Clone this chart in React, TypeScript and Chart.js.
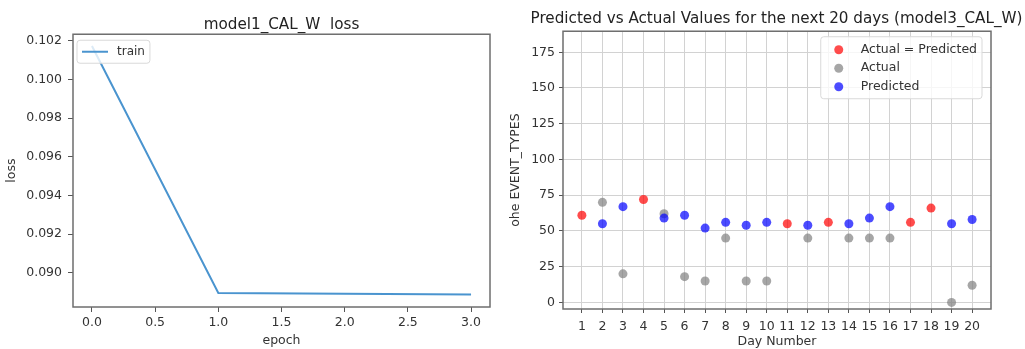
import React, { useEffect, useRef } from 'react';
import { Chart, registerables } from 'chart.js';

Chart.register(...registerables);

const FONT = "'DejaVu Sans', 'Liberation Sans', sans-serif";
const TEXT = '#333333';
const TICK_SIZE = 12.5;
const TITLE_SIZE = 15.2;

// ---- Left chart data ----
const epochs = [0, 1, 2, 3];
const trainLoss = [0.10174, 0.08895, 0.0889, 0.08887];
const lossTitle = 'model1_CAL_W  loss';

// ---- Right chart data ----
const days = [1, 2, 3, 4, 5, 6, 7, 8, 9, 10, 11, 12, 13, 14, 15, 16, 17, 18, 19, 20];
const actualEqualsPredicted = [61, null, null, 72, null, null, null, null, null, null, 55, null, 56, null, null, null, 56, 66, null, null];
const actualValues = [null, 70, 20, null, 62, 18, 15, 45, 15, 15, null, 45, null, 45, 45, 45, null, null, 0, 12];
const predictedValues = [null, 55, 67, null, 59, 61, 52, 56, 54, 56, null, 54, null, 55, 59, 67, null, null, 55, 58];
const scatterTitle = 'Predicted vs Actual Values for the next 20 days (model3_CAL_W)';

const toPoints = (vals: (number | null)[]) =>
  days.map((d, i) => ({ x: d, y: vals[i] })).filter((p) => p.y !== null) as { x: number; y: number }[];

const framePlugin = {
  id: 'frame',
  afterDatasetsDraw(chart: any) {
    const { ctx, chartArea } = chart;
    const { left, top, right, bottom } = chartArea;
    ctx.save();
    ctx.strokeStyle = '#6e6e6e';
    ctx.lineWidth = 1.5;
    ctx.strokeRect(left, top, right - left, bottom - top);
    ctx.restore();
  },
};

const lineLegendPlugin = {
  id: 'lineLegend',
  afterDraw(chart: any) {
    const { ctx, chartArea } = chart;
    const ds = chart.data.datasets[0];
    ctx.save();
    ctx.font = `12px ${FONT}`;
    const tw = ctx.measureText(ds.label).width;
    const x = chartArea.left + 4;
    const y = chartArea.top + 6;
    const w = 5 + 26 + 9 + tw + 5;
    const h = 23;
    ctx.beginPath();
    ctx.roundRect(x, y, w, h, 3);
    ctx.fillStyle = 'rgba(255,255,255,0.8)';
    ctx.fill();
    ctx.strokeStyle = '#d9d9d9';
    ctx.lineWidth = 1;
    ctx.stroke();
    ctx.beginPath();
    ctx.moveTo(x + 5, y + h / 2);
    ctx.lineTo(x + 31, y + h / 2);
    ctx.strokeStyle = ds.borderColor;
    ctx.lineWidth = 2;
    ctx.stroke();
    ctx.fillStyle = TEXT;
    ctx.textBaseline = 'middle';
    ctx.textAlign = 'left';
    ctx.fillText(ds.label, x + 40, y + h / 2);
    ctx.restore();
  },
};

const scatterLegendPlugin = {
  id: 'scatterLegend',
  afterDraw(chart: any) {
    const { ctx, chartArea } = chart;
    const dss = chart.data.datasets;
    ctx.save();
    ctx.font = `12.5px ${FONT}`;
    let tw = 0;
    dss.forEach((d: any) => {
      tw = Math.max(tw, ctx.measureText(d.label).width);
    });
    const w = 40 + tw + 5;
    const rowH = 18.5;
    const h = 13 + rowH * (dss.length - 1) + 12;
    const x = chartArea.right - 9 - w;
    const y = chartArea.top + 5.5;
    ctx.beginPath();
    ctx.roundRect(x, y, w, h, 3);
    ctx.fillStyle = 'rgba(255,255,255,0.8)';
    ctx.fill();
    ctx.strokeStyle = '#d9d9d9';
    ctx.lineWidth = 1;
    ctx.stroke();
    dss.forEach((d: any, i: number) => {
      const cy = y + 13 + i * rowH;
      ctx.beginPath();
      ctx.arc(x + 18, cy, 4.5, 0, Math.PI * 2);
      ctx.fillStyle = d.backgroundColor;
      ctx.fill();
      ctx.fillStyle = TEXT;
      ctx.textBaseline = 'middle';
      ctx.textAlign = 'left';
      ctx.fillText(d.label, x + 40, cy);
    });
    ctx.restore();
  },
};

// an invisible right-hand axis used only to reserve space so the title is centred over the plot
const spacerAxis = (w: number) => ({
  type: 'linear',
  position: 'right',
  display: true,
  grid: { display: false },
  border: { display: false },
  ticks: { display: false },
  afterFit: (s: any) => {
    s.width = w;
  },
});

function LossChart() {
  const ref = useRef<HTMLCanvasElement>(null);
  useEffect(() => {
    const chart = new Chart(ref.current!, {
      type: 'line',
      data: {
        datasets: [
          {
            label: 'train',
            data: epochs.map((e, i) => ({ x: e, y: trainLoss[i] })),
            borderColor: '#4a94cf',
            borderWidth: 2,
            pointRadius: 0,
            tension: 0,
            fill: false,
          },
        ],
      },
      options: {
        animation: false,
        responsive: false,
        devicePixelRatio: 1,
        layout: { padding: 0 },
        plugins: {
          legend: { display: false },
          tooltip: { enabled: false },
          title: {
            display: true,
            text: lossTitle,
            color: '#222',
            font: { family: FONT, size: TITLE_SIZE, weight: 'normal' },
            padding: { top: 16, bottom: 0 },
          },
        },
        scales: {
          x: {
            type: 'linear',
            min: -0.15,
            max: 3.15,
            afterFit: (s: any) => {
              s.height = 42;
            },
            border: { display: false },
            grid: { display: true, drawOnChartArea: false, drawTicks: true, tickLength: 5, tickColor: '#555' },
            ticks: {
              stepSize: 0.5,
              includeBounds: false,
              autoSkip: false,
              maxRotation: 0,
              padding: 3,
              color: TEXT,
              font: { family: FONT, size: TICK_SIZE },
              callback: (v: any) => Number(v).toFixed(1),
            },
            title: {
              display: true,
              text: 'epoch',
              color: TEXT,
              font: { family: FONT, size: TICK_SIZE },
              padding: { top: 0, bottom: 1 },
            },
          },
          y: {
            type: 'linear',
            min: 0.08822,
            max: 0.10235,
            afterFit: (s: any) => {
              s.width = 73;
            },
            border: { display: false },
            grid: { display: true, drawOnChartArea: false, drawTicks: true, tickLength: 5, tickColor: '#555' },
            ticks: {
              stepSize: 0.002,
              includeBounds: false,
              padding: 6,
              color: TEXT,
              font: { family: FONT, size: TICK_SIZE },
              callback: (v: any) => Number(v).toFixed(3),
            },
            title: {
              display: true,
              text: 'loss',
              color: TEXT,
              font: { family: FONT, size: TICK_SIZE },
              padding: { top: 4, bottom: 0 },
            },
          },
          spacer: spacerAxis(73),
        },
      } as any,
      plugins: [framePlugin, lineLegendPlugin],
    });
    return () => chart.destroy();
  }, []);
  return (
    <canvas
      ref={ref}
      width={563}
      height={349}
      style={{ position: 'absolute', left: 0, top: 0, width: 563, height: 349 }}
    />
  );
}

function ScatterChart() {
  const ref = useRef<HTMLCanvasElement>(null);
  useEffect(() => {
    const chart = new Chart(ref.current!, {
      type: 'scatter',
      data: {
        datasets: [
          {
            label: 'Actual = Predicted',
            data: toPoints(actualEqualsPredicted),
            backgroundColor: 'rgba(255,0,0,0.7)',
            borderWidth: 0,
            pointRadius: 4.5,
            order: 3,
          },
          {
            label: 'Actual',
            data: toPoints(actualValues),
            backgroundColor: 'rgba(128,128,128,0.7)',
            borderWidth: 0,
            pointRadius: 4.5,
            order: 2,
          },
          {
            label: 'Predicted',
            data: toPoints(predictedValues),
            backgroundColor: 'rgba(0,0,255,0.7)',
            borderWidth: 0,
            pointRadius: 4.5,
            order: 1,
          },
        ],
      },
      options: {
        animation: false,
        responsive: false,
        devicePixelRatio: 1,
        layout: { padding: 0 },
        plugins: {
          legend: { display: false },
          tooltip: { enabled: false },
          title: {
            display: true,
            text: scatterTitle,
            color: '#222',
            font: { family: FONT, size: TITLE_SIZE, weight: 'normal' },
            padding: { top: 10, bottom: 3 },
          },
        },
        scales: {
          x: {
            type: 'linear',
            min: 0.08,
            max: 20.92,
            afterFit: (s: any) => {
              s.height = 40;
            },
            border: { display: false },
            grid: {
              display: true,
              drawOnChartArea: true,
              drawTicks: true,
              tickLength: 4,
              color: '#d2d2d2',
              tickColor: '#555',
              lineWidth: 1,
            },
            ticks: {
              stepSize: 1,
              includeBounds: false,
              autoSkip: false,
              maxTicksLimit: 100,
              maxRotation: 0,
              padding: 6,
              color: TEXT,
              font: { family: FONT, size: TICK_SIZE },
              callback: (v: any) => String(v),
            },
            title: {
              display: true,
              text: 'Day Number',
              color: TEXT,
              font: { family: FONT, size: TICK_SIZE },
              padding: { top: 0, bottom: 0 },
            },
          },
          y: {
            type: 'linear',
            min: -4.6,
            max: 189.7,
            afterFit: (s: any) => {
              s.width = 63;
            },
            border: { display: false },
            grid: {
              display: true,
              drawOnChartArea: true,
              drawTicks: true,
              tickLength: 4,
              color: '#d2d2d2',
              tickColor: '#555',
              lineWidth: 1,
            },
            ticks: {
              stepSize: 25,
              includeBounds: false,
              padding: 4,
              color: TEXT,
              font: { family: FONT, size: TICK_SIZE },
              callback: (v: any) => String(v),
            },
            title: {
              display: true,
              text: 'ohe EVENT_TYPES',
              color: TEXT,
              font: { family: FONT, size: TICK_SIZE },
              padding: { top: 8, bottom: 0 },
            },
          },
          spacer: spacerAxis(62),
        },
      } as any,
      plugins: [framePlugin, scatterLegendPlugin],
    });
    return () => chart.destroy();
  }, []);
  return (
    <canvas
      ref={ref}
      width={553}
      height={349}
      style={{ position: 'absolute', left: 500, top: 0, width: 553, height: 349 }}
    />
  );
}

export default function App() {
  return (
    <div
      style={{
        position: 'fixed',
        left: 0,
        top: 0,
        width: 1025,
        height: 349,
        overflow: 'hidden',
        background: '#ffffff',
      }}
    >
      <LossChart />
      <ScatterChart />
    </div>
  );
}
